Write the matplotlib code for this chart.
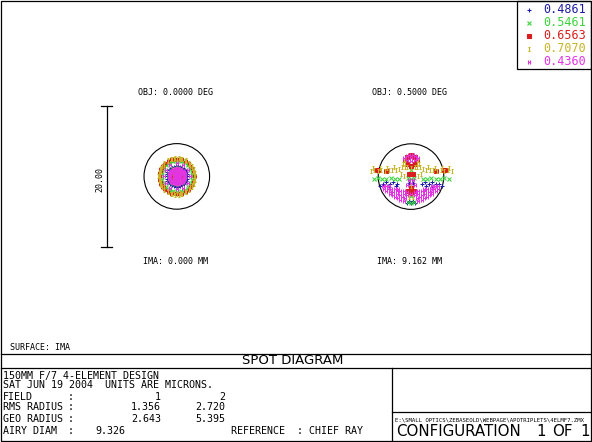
import numpy as np
import matplotlib
matplotlib.use("Agg")
import matplotlib.pyplot as plt
from matplotlib.path import Path
from matplotlib.patches import Circle, Rectangle

# wavelengths (microns) and their colors, in plotting order
wavelengths = ['0.4861', '0.5461', '0.6563', '0.7070', '0.4360']
wave_colors = ['#1c1ca8', '#3cd43c', '#d81e1e', '#c8b428', '#e234e2']

# field labels
obj_labels = ['OBJ: 0.0000 DEG', 'OBJ: 0.5000 DEG']
ima_labels = ['IMA: 0.000 MM', 'IMA: 9.162 MM']

airy_radius = 9.326 / 2  # microns
scale_bar = 20.00        # microns

# field 1 (on axis): radius of each hexapolar ring (ring k has 6k rays), microns
f1_rings = {
    '0.4861': [0.2, 0.45, 0.75, 1.3, 1.45],
    '0.5461': [0.45, 1.0, 1.15, 2.2, 2.32],
    '0.6563': [0.2, 0.62, 2.4, 2.5, 2.56],
    '0.7070': [0.2, 1.0, 2.45, 2.52, 2.62],
    '0.4360': [0.2, 1.85, 0.45, 1.15, 1.0],
}

# field 2 (0.5 deg): spot positions, microns
f2_blue_x = [-4.4, -4.0, -3.5, -3.0, -2.5, -2.0, -3.2, -2.2, 1.5, 2.0, 2.5, 3.0, 3.5, 4.0, 4.4, 3.0, 2.2,
             -0.3, 0.3, -0.3, 0.3, 0.0, 0.6, -0.6]
f2_blue_y = [-1.3, -1.1, -0.8, -1.0, -0.7, -1.0, -1.5, -1.4, -1.0, -0.7, -1.0, -0.8, -1.1, -1.0, -1.4, -1.5, -1.4,
             -0.9, -0.9, -3.4, -3.4, -3.8, -3.7, -3.7]

f2_green_x = [-5.3, -4.7, -4.1, -3.5, -2.9, -2.3, -1.7, 1.7, 2.3, 2.9, 3.5, 4.1, 4.7, 5.4,
              0.0, -0.4, 0.4, 0.0, -0.4, 0.0, 0.4, 0.0]
f2_green_y = [-0.3, -0.2, -0.4, -0.3, -0.2, -0.4, -0.3, -0.3, -0.4, -0.2, -0.3, -0.4, -0.2, -0.3,
              -0.4, -0.2, -0.2, 1.0, -3.6, -3.7, -3.6, -2.8]

f2_red_x = [-5.0, -4.6, 5.0, 4.6, -0.9, 0.9, -0.6, 0.6, -0.6, 0.6, 0.0, 0.0,
            0.0, -0.4, 0.4, 0.0, -0.3, 0.3, -3.6, 3.6]
f2_red_y = [1.0, 0.9, 1.0, 0.9, 2.3, 2.3, 2.8, 2.8, 1.8, 1.8, 3.1, 1.5,
            -1.6, -2.0, -2.0, -2.4, 0.3, 0.3, 0.8, 0.8]

f2_yellow_x = [-5.7, -5.2, -4.7, -4.2, -3.7, -3.2, -2.7, -2.2, -1.7, 1.7, 2.2, 2.7, 3.2, 3.7, 4.2, 4.7, 5.2, 5.8,
               -5.4, -4.4, -3.4, -2.4, 2.4, 3.4, 4.4, 5.4,
               -1.3, -0.9, -0.5, 0.0, 0.5, 0.9, 1.3, -1.2, -0.8, 0.8, 1.2, -1.0, 1.0,
               -1.4, -1.0, 1.0, 1.4, 0.0, -0.3, 0.3]
f2_yellow_y = [0.8, 0.9, 0.8, 0.9, 0.85, 0.9, 1.0, 1.0, 1.1, 1.1, 1.0, 1.0, 0.9, 0.85, 0.9, 0.8, 0.9, 0.8,
               1.2, 1.2, 1.25, 1.3, 1.3, 1.25, 1.2, 1.2,
               1.3, 1.4, 1.3, 1.2, 1.3, 1.4, 1.3, 1.8, 1.9, 1.9, 1.8, 2.4, 2.4,
               0.4, 0.1, 0.1, 0.4, -1.3, -2.9, -2.9]

f2_mag_x = [-1.0, -0.6, -0.3, 0.0, 0.3, 0.6, 1.0, -0.5, 0.5, 0.0, 0.0,
            -0.3, 0.3, 0.0, -0.5, 0.5,
            -4.0, -3.6, -3.2, 3.0, 3.4, 3.8,
            -3.8, -3.3, -2.8, -2.3, -1.8, 1.8, 2.3, 2.8, 3.3, 3.8,
            -3.5, -3.0, -2.5, -2.0, -1.5, -1.0, -0.5, 0.5, 1.0, 1.5, 2.0, 2.5, 3.0, 3.5,
            -3.0, -2.5, -2.0, -1.5, -1.0, -0.5, 0.0, 0.5, 1.0, 1.5, 2.0, 2.5, 3.0,
            -2.3, -1.8, -1.3, -0.8, 0.8, 1.3, 1.8, 2.3,
            -1.5, -1.0, 1.0, 1.5]
f2_mag_y = [2.6, 2.9, 3.1, 3.0, 3.1, 2.9, 2.6, 2.4, 2.4, 2.6, 2.2,
            -0.5, -0.5, -0.9, -1.2, -1.2,
            -1.3, -1.3, -1.4, -1.4, -1.3, -1.3,
            -1.7, -1.8, -1.8, -1.7, -1.7, -1.7, -1.7, -1.8, -1.8, -1.7,
            -2.1, -2.2, -2.2, -2.1, -2.1, -2.1, -2.2, -2.2, -2.1, -2.1, -2.1, -2.2, -2.2, -2.1,
            -2.5, -2.6, -2.5, -2.6, -2.5, -2.6, -2.5, -2.6, -2.5, -2.6, -2.5, -2.6, -2.5,
            -2.9, -3.0, -2.9, -3.0, -3.0, -2.9, -3.0, -2.9,
            -3.3, -3.4, -3.4, -3.3]

f2_spots = {
    '0.4861': (f2_blue_x, f2_blue_y),
    '0.5461': (f2_green_x, f2_green_y),
    '0.6563': (f2_red_x, f2_red_y),
    '0.7070': (f2_yellow_x, f2_yellow_y),
    '0.4360': (f2_mag_x, f2_mag_y),
}

# bottom text block
title_line = '150MM F/7 4-ELEMENT DESIGN'
date_line = 'SAT JUN 19 2004  UNITS ARE MICRONS.'
field_nums = ['1', '2']
rms_radius = ['1.356', '2.720']
geo_radius = ['2.643', '5.395']
airy_diam = '9.326'
file_path = r'E:\SMALL OPTICS\ZEBASEOLD\WEBPAGE\APOTRIPLETS\4ELMF7.ZMX'

# zemax style markers
ibeam = Path([(-0.6, 1), (0.6, 1), (0, 1), (0, -1), (-0.6, -1), (0.6, -1)],
             [Path.MOVETO, Path.LINETO, Path.MOVETO, Path.LINETO, Path.MOVETO, Path.LINETO])
hmark = Path([(-0.7, -1), (-0.7, 1), (0.7, -1), (0.7, 1), (-0.7, 0), (0.7, 0)],
             [Path.MOVETO, Path.LINETO, Path.MOVETO, Path.LINETO, Path.MOVETO, Path.LINETO])
markers = {'0.4861': '+', '0.5461': 'x', '0.6563': 's', '0.7070': ibeam, '0.4360': hmark}
msizes = {'0.4861': 2.6, '0.5461': 2.2, '0.6563': 1.8, '0.7070': 2.4, '0.4360': 2.4}

W, H = 592, 442
MONO = 'DejaVu Sans Mono'
SANS = 'DejaVu Sans'

fig = plt.figure(figsize=(W / 100, H / 100), dpi=100)
bg = fig.add_axes([0, 0, 1, 1])
bg.set_xlim(0, W)
bg.set_ylim(H, 0)
bg.axis('off')

px_per_um = 7.03
half = 10 * px_per_um


def spot_axes(cx, cy):
    ax = fig.add_axes([(cx - half) / W, (H - cy - half) / H, 2 * half / W, 2 * half / H])
    ax.set_xlim(-10, 10)
    ax.set_ylim(-10, 10)
    ax.axis('off')
    ax.add_patch(Circle((0, 0), airy_radius, fill=False, ec='black', lw=0.8))
    return ax


def draw_spot(ax, wl, xs, ys, size=None):
    c = wave_colors[wavelengths.index(wl)]
    ax.plot(xs, ys, ls='none', marker=markers[wl], ms=size or msizes[wl],
            color=c, mec=c, mew=0.75)


# field 1
ax1 = spot_axes(176.8, 176.4)
for wl in wavelengths:
    xs, ys = [], []
    for k, r in enumerate(f1_rings[wl]):
        n = 6 * (k + 1)
        ang = np.arange(n) * 2 * np.pi / n
        xs += list(r * np.cos(ang))
        ys += list(r * np.sin(ang))
    draw_spot(ax1, wl, xs, ys)

# scale bar
ax1.plot([-10, -10], [-scale_bar / 2, scale_bar / 2], color='black', lw=0.9, clip_on=False)
for yb in (-scale_bar / 2, scale_bar / 2):
    ax1.plot([-10.85, -9.15], [yb, yb], color='black', lw=0.9, clip_on=False)
ax1.text(-11.0, -0.5, '%.2f' % scale_bar, rotation=90, ha='center', va='center',
         fontsize=6, family=MONO)

# field 2
ax2 = spot_axes(411.0, 176.6)
for wl in wavelengths:
    xs, ys = f2_spots[wl]
    draw_spot(ax2, wl, xs, ys, size=msizes[wl] + 0.5)

# field labels
for cx, obj, ima in zip([175.5, 409.5], obj_labels, ima_labels):
    bg.text(cx, 92.5, obj, ha='center', va='center', fontsize=6, family=MONO)
    bg.text(cx, 261.5, ima, ha='center', va='center', fontsize=6, family=MONO)

# legend box
bg.add_patch(Rectangle((516.5, 0.5), 74, 68.5, fill=False, ec='black', lw=0.9))
for i, (wl, c) in enumerate(zip(wavelengths, wave_colors)):
    y = 9.5 + i * 13
    bg.plot([529], [y], ls='none', marker=markers[wl], ms=msizes[wl] + 0.4, color=c, mec=c, mew=0.8)
    bg.text(543, y, wl, color=c, ha='left', va='center', fontsize=8.5, family=MONO)

# outer frame and bottom boxes
lk = dict(color='black', lw=0.9)
bg.add_patch(Rectangle((1, 1), W - 2.5, H - 2.5, fill=False, ec='black', lw=0.9))
bg.plot([1, W - 1.5], [353.5, 353.5], **lk)
bg.plot([1, W - 1.5], [367.5, 367.5], **lk)
bg.plot([392, 392], [367.5, H - 1.5], **lk)
bg.plot([392, W - 1.5], [411.5, 411.5], **lk)

bg.text(10, 347, 'SURFACE: IMA', ha='left', va='center', fontsize=6, family=MONO)
bg.text(293, 360.5, 'SPOT DIAGRAM', ha='center', va='center', fontsize=9.5, family=SANS)

fs = 7.2
rows = [375.5, 385.5, 396.5, 407.5, 418.5, 431]
tk = dict(va='center', fontsize=fs, family=MONO)
bg.text(3, rows[0], title_line, ha='left', **tk)
bg.text(3, rows[1], date_line, ha='left', **tk)
labels = ['FIELD', 'RMS RADIUS', 'GEO RADIUS']
vals = [field_nums, rms_radius, geo_radius]
for row, lab, v in zip(rows[2:5], labels, vals):
    bg.text(3, row, lab, ha='left', **tk)
    bg.text(68, row, ':', ha='left', **tk)
    bg.text(161, row, v[0], ha='right', **tk)
    bg.text(225, row, v[1], ha='right', **tk)
bg.text(3, rows[5], 'AIRY DIAM', ha='left', **tk)
bg.text(68, rows[5], ':', ha='left', **tk)
bg.text(95, rows[5], airy_diam, ha='left', **tk)
bg.text(231, rows[5], 'REFERENCE  : CHIEF RAY', ha='left', **tk)

bg.text(395, 420.5, file_path, ha='left', va='center', fontsize=4.1, family=MONO)
ck = dict(va='center', fontsize=10.8, family=SANS)
bg.text(396, 432, 'CONFIGURATION', ha='left', **ck)
bg.text(541, 432, '1', ha='center', **ck)
bg.text(562, 432, 'OF', ha='center', **ck)
bg.text(585, 432, '1', ha='center', **ck)

fig.savefig('out.png', dpi=100)
